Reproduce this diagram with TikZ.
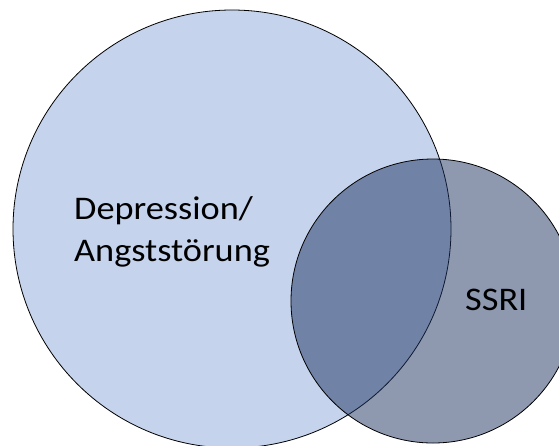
\documentclass[tikz,border=0pt]{standalone}
\usepackage{fontspec}
\setmainfont[FakeStretch=1.1]{Carlito}
\usepackage{tikz}
\usetikzlibrary{positioning}
\definecolor{paleblue}{RGB}{197,211,236}
\definecolor{slate}{RGB}{29,51,97}

\begin{document}
\begin{tikzpicture}[
  x=1pt, y=-1pt,
  venn/.style={draw, circle, inner sep=0pt, line width=0.8pt},
  lbl/.style={font=\fontsize{33}{42}\selectfont, inner sep=0pt, align=left}
]
\clip (0,0) rectangle (559,445);
\node[venn, fill=paleblue, minimum size=438pt] (dep) at (232,229) {};
\node[venn, fill=slate, fill opacity=0.5, minimum size=284pt] (ssri) at (433,301) {};
% base anchor of a two-line label sits on its last line
\node[lbl, anchor=base west] (deplbl) at (74,261) {Depression/\\Angststörung};
\node[lbl, anchor=base west] (ssrilbl) at (465,310) {SSRI};
\end{tikzpicture}
\end{document}
